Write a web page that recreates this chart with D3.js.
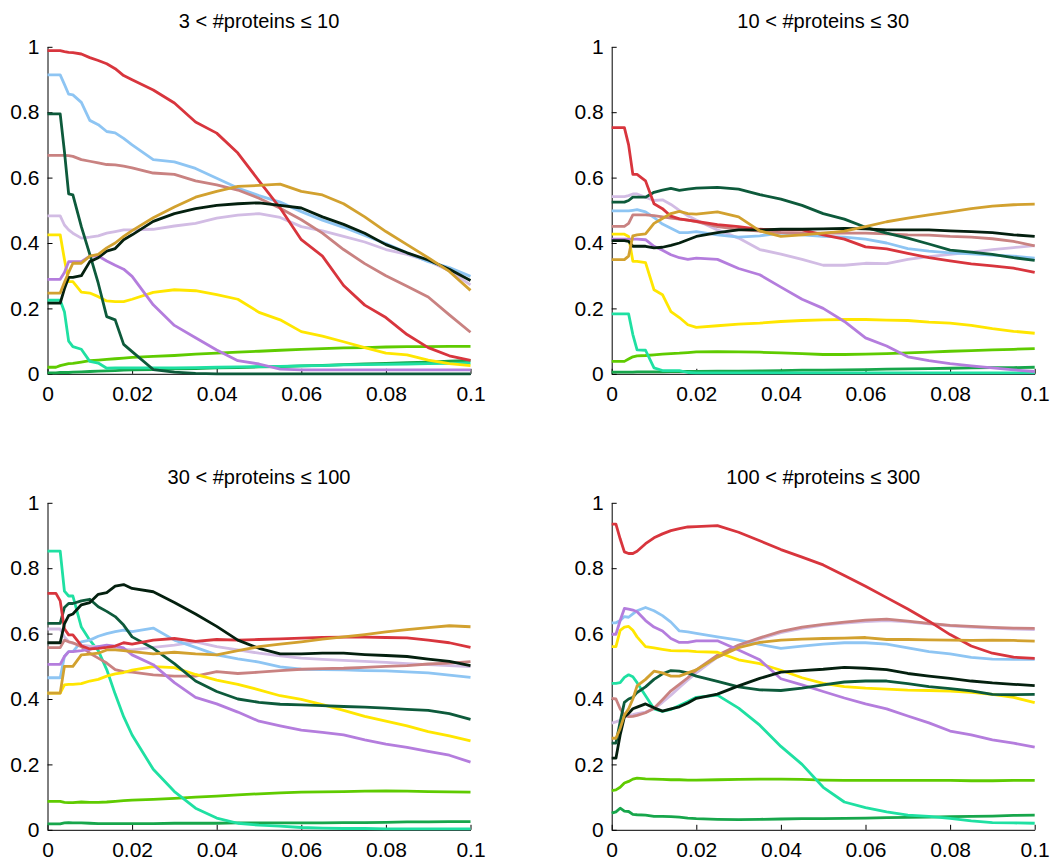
<!DOCTYPE html>
<html>
<head>
<meta charset="utf-8">
<script src="https://cdn.jsdelivr.net/npm/d3@7"></script>
<style>
  html, body { margin: 0; padding: 0; background: #fff; }
  svg { display: block; }
  text { font-family: "Liberation Sans", Arial, Helvetica, sans-serif; fill: #000; }
</style>
</head>
<body>
<svg id="chart" width="1060" height="865"></svg>
<script>
// Shared x sampling (fraction of proteins), finer near the origin where the curves step
const xs = [0, .001, .002, .003, .004, .005, .006, .008, .010, .012, .014, .016, .018, .020,
            .025, .030, .035, .040, .045, .050, .055, .060, .065, .070, .075, .080, .085, .090, .095, .100];

const panelTitles = ["3 < #proteins \u2264 10", "10 < #proteins \u2264 30",
                     "30 < #proteins \u2264 100", "100 < #proteins \u2264 300"];
const xTicks = [0, 0.02, 0.04, 0.06, 0.08, 0.1];
const yTicks = [0, 0.2, 0.4, 0.6, 0.8, 1];

// One array per method; each holds the four panels in order
const lime = [
  [.02,.02,.02,.025,.028,.031,.032,.036,.04,.042,.044,.046,.048,.05,.053,.056,.06,.063,.066,.069,.072,.075,.077,.079,.08,.082,.083,.083,.084,.084],
  [.038,.038,.038,.038,.045,.052,.055,.056,.058,.06,.062,.063,.065,.067,.068,.067,.066,.064,.062,.059,.059,.06,.062,.064,.066,.069,.071,.073,.075,.077],
  [.087,.087,.087,.087,.084,.083,.083,.085,.084,.084,.085,.087,.089,.091,.093,.096,.10,.103,.107,.11,.113,.115,.116,.117,.118,.119,.118,.117,.116,.115],
  [.12,.122,.13,.143,.148,.155,.158,.156,.155,.154,.153,.153,.152,.152,.153,.154,.155,.155,.154,.152,.151,.151,.151,.151,.151,.151,.15,.15,.151,.151]
];
const green = [
  [.003,.003,.003,.004,.004,.004,.005,.006,.007,.008,.009,.01,.011,.012,.013,.015,.016,.018,.019,.021,.022,.024,.026,.028,.03,.032,.034,.036,.039,.041],
  [.005,.005,.005,.005,.005,.005,.006,.006,.006,.006,.007,.007,.007,.007,.008,.008,.009,.01,.011,.011,.012,.013,.014,.015,.016,.017,.018,.019,.019,.02],
  [.018,.018,.018,.018,.021,.022,.021,.021,.02,.019,.019,.019,.019,.019,.019,.02,.02,.02,.021,.021,.021,.021,.021,.022,.022,.023,.024,.024,.025,.025],
  [.051,.055,.066,.057,.056,.047,.046,.045,.041,.041,.04,.039,.036,.034,.032,.031,.032,.033,.034,.034,.035,.036,.037,.038,.039,.04,.041,.042,.044,.045]
];
const teal = [
  [.225,.225,.225,.225,.19,.1,.083,.075,.038,.033,.017,.018,.018,.018,.018,.018,.019,.02,.021,.022,.023,.024,.025,.027,.028,.029,.03,.031,.032,.033],
  [.183,.183,.183,.183,.183,.12,.073,.072,.018,.01,.01,.01,.004,.003,.003,.003,.003,.003,.003,.003,.003,.003,.003,.003,.003,.003,.003,.003,.003,.003],
  [.852,.852,.852,.852,.73,.715,.715,.62,.58,.548,.49,.415,.346,.29,.185,.117,.066,.036,.02,.014,.011,.007,.005,.004,.004,.003,.003,.003,.003,.003],
  [.448,.448,.45,.466,.474,.468,.45,.41,.37,.362,.368,.38,.392,.405,.412,.372,.32,.255,.2,.13,.085,.068,.055,.045,.041,.035,.027,.022,.021,.02]
];
const lavender = [
  [.483,.483,.483,.483,.455,.44,.43,.415,.418,.422,.43,.435,.44,.44,.442,.452,.46,.476,.485,.49,.478,.45,.437,.42,.403,.38,.365,.345,.315,.272],
  [.542,.542,.542,.542,.545,.55,.55,.54,.53,.532,.518,.50,.483,.47,.44,.415,.38,.366,.35,.332,.332,.338,.337,.35,.358,.365,.372,.38,.386,.392],
  [.614,.614,.614,.614,.59,.575,.57,.565,.562,.56,.558,.555,.552,.55,.558,.565,.575,.56,.55,.54,.532,.525,.521,.518,.515,.512,.508,.505,.502,.499],
  [.326,.33,.335,.345,.35,.352,.355,.36,.37,.39,.412,.435,.458,.48,.528,.56,.584,.603,.616,.626,.632,.637,.64,.636,.63,.624,.62,.617,.614,.612]
];
const skyBlue = [
  [.914,.914,.914,.914,.885,.855,.853,.83,.775,.762,.741,.737,.72,.70,.655,.648,.628,.598,.568,.545,.525,.496,.47,.448,.423,.398,.37,.343,.325,.298],
  [.498,.498,.498,.498,.498,.5,.502,.495,.478,.458,.445,.432,.432,.435,.425,.418,.422,.43,.425,.42,.418,.412,.4,.383,.375,.37,.367,.363,.36,.354],
  [.465,.465,.465,.465,.53,.545,.545,.575,.58,.592,.60,.606,.611,.606,.617,.58,.558,.535,.523,.513,.498,.491,.49,.489,.487,.486,.483,.48,.473,.466],
  [.633,.633,.64,.652,.65,.66,.67,.68,.67,.655,.635,.608,.605,.601,.59,.58,.567,.555,.562,.568,.572,.572,.568,.556,.545,.538,.527,.522,.521,.521]
];
const rose = [
  [.668,.668,.668,.668,.668,.667,.665,.655,.65,.645,.64,.639,.635,.63,.614,.61,.59,.578,.562,.537,.506,.471,.43,.38,.337,.30,.268,.235,.18,.127],
  [.451,.451,.451,.451,.46,.486,.486,.486,.484,.48,.476,.473,.47,.465,.45,.442,.436,.432,.43,.43,.43,.43,.428,.425,.424,.42,.418,.413,.405,.391],
  [.557,.557,.557,.557,.58,.575,.572,.56,.54,.525,.51,.49,.484,.482,.474,.47,.47,.484,.478,.482,.487,.491,.493,.494,.497,.5,.502,.507,.51,.514],
  [.402,.40,.37,.35,.346,.347,.35,.358,.372,.398,.425,.445,.465,.489,.534,.565,.587,.607,.62,.628,.635,.641,.644,.638,.631,.625,.622,.619,.617,.616]
];
const yellow = [
  [.425,.425,.425,.425,.35,.282,.282,.25,.247,.236,.223,.221,.221,.228,.249,.257,.254,.242,.228,.188,.165,.129,.115,.098,.08,.063,.058,.042,.031,.025],
  [.427,.427,.427,.427,.42,.344,.344,.34,.257,.242,.19,.172,.15,.142,.147,.152,.155,.16,.163,.165,.166,.166,.164,.163,.158,.155,.148,.138,.13,.124],
  [.418,.418,.418,.418,.443,.445,.445,.447,.455,.46,.47,.477,.481,.488,.499,.496,.475,.458,.445,.428,.41,.399,.383,.365,.347,.332,.318,.30,.287,.272],
  [.56,.56,.61,.62,.622,.61,.59,.56,.556,.552,.548,.547,.547,.545,.543,.52,.508,.488,.465,.448,.438,.433,.43,.427,.426,.424,.42,.414,.405,.389]
];
const violet = [
  [.289,.289,.289,.289,.31,.343,.343,.343,.36,.36,.345,.332,.32,.298,.211,.148,.11,.073,.04,.03,.014,.012,.012,.012,.012,.012,.012,.012,.012,.012],
  [.412,.412,.412,.412,.412,.412,.412,.41,.39,.378,.364,.355,.35,.354,.35,.322,.303,.265,.228,.20,.16,.11,.085,.052,.04,.031,.024,.018,.012,.007],
  [.506,.506,.506,.506,.53,.545,.545,.548,.552,.56,.565,.562,.556,.535,.505,.45,.405,.385,.36,.332,.318,.305,.298,.29,.275,.262,.252,.24,.228,.207],
  [.598,.598,.64,.677,.675,.672,.667,.64,.62,.608,.585,.573,.573,.578,.578,.55,.52,.462,.443,.423,.403,.385,.37,.348,.327,.302,.29,.275,.265,.253]
];
const forest = [
  [.795,.795,.795,.795,.68,.55,.547,.45,.365,.277,.175,.165,.09,.068,.013,.005,.001,0,0,0,0,0,0,0,0,0,0,0,0,0],
  [.525,.525,.525,.525,.53,.54,.54,.54,.555,.562,.567,.561,.565,.568,.57,.565,.548,.534,.515,.49,.473,.448,.43,.415,.397,.378,.372,.365,.355,.347],
  [.631,.631,.631,.631,.68,.692,.692,.70,.705,.682,.668,.652,.626,.59,.555,.508,.455,.423,.40,.39,.384,.382,.38,.377,.375,.372,.368,.365,.355,.338],
  [.265,.265,.33,.39,.40,.405,.42,.437,.46,.477,.487,.485,.48,.47,.454,.437,.428,.426,.433,.443,.452,.455,.455,.447,.438,.432,.425,.414,.413,.414]
];
const crimson = [
  [.988,.988,.988,.988,.985,.983,.982,.978,.967,.958,.948,.933,.912,.899,.868,.828,.77,.736,.675,.59,.507,.41,.36,.27,.21,.172,.12,.08,.055,.041],
  [.753,.753,.753,.753,.70,.61,.61,.59,.52,.505,.482,.474,.47,.466,.456,.45,.442,.44,.44,.425,.412,.388,.382,.368,.355,.345,.336,.33,.323,.31],
  [.723,.723,.723,.70,.615,.596,.596,.563,.553,.555,.558,.562,.572,.568,.58,.585,.576,.582,.58,.582,.584,.586,.588,.589,.589,.588,.587,.58,.572,.558],
  [.935,.935,.89,.85,.845,.845,.852,.875,.893,.905,.915,.921,.926,.927,.93,.91,.884,.857,.834,.81,.778,.745,.71,.675,.638,.597,.562,.54,.528,.524]
];
const ink = [
  [.216,.216,.216,.216,.26,.295,.295,.30,.343,.355,.375,.383,.41,.425,.466,.49,.505,.515,.52,.523,.515,.507,.48,.457,.43,.395,.37,.348,.32,.285],
  [.407,.407,.407,.407,.405,.39,.39,.39,.385,.387,.393,.40,.41,.42,.432,.44,.44,.442,.442,.443,.445,.443,.44,.44,.44,.437,.435,.432,.425,.42],
  [.572,.572,.572,.572,.63,.655,.66,.688,.695,.72,.725,.745,.75,.738,.728,.695,.66,.622,.58,.555,.538,.538,.54,.54,.536,.533,.53,.522,.515,.502],
  [.219,.219,.29,.345,.356,.37,.375,.385,.373,.363,.37,.376,.388,.402,.415,.44,.463,.482,.487,.491,.497,.494,.49,.478,.47,.463,.455,.449,.445,.441]
];
const ochre = [
  [.247,.247,.247,.247,.28,.31,.338,.338,.36,.365,.385,.40,.42,.438,.477,.51,.54,.558,.573,.576,.58,.558,.547,.52,.48,.435,.395,.355,.313,.255],
  [.349,.349,.349,.349,.36,.422,.425,.428,.46,.475,.49,.497,.49,.488,.495,.48,.437,.42,.425,.43,.436,.45,.465,.476,.486,.495,.505,.513,.517,.519],
  [.418,.418,.418,.418,.5,.5,.5,.535,.537,.54,.55,.55,.548,.545,.538,.543,.538,.535,.548,.56,.568,.575,.583,.59,.597,.605,.612,.618,.624,.621],
  [.28,.28,.31,.35,.37,.40,.44,.46,.485,.48,.47,.47,.48,.489,.528,.557,.573,.58,.583,.585,.586,.588,.582,.582,.581,.58,.579,.58,.579,.577]
];

// Drawing order (later series sit on top) and their colours
const seriesList = [lime, green, teal, lavender, skyBlue, rose, yellow, violet, forest, crimson, ink, ochre];
const seriesColors = ["#5fcb00", "#17a64b", "#1fe0a2", "#d2bce4", "#8ec5f3", "#c98281",
                      "#ffe600", "#b47ddd", "#0d5a3b", "#d8353d", "#04200f", "#d2a12f"];

const svg = d3.select("#chart");
const plotW = 423, plotH = 327;
const panelOrigins = [[47.5, 46.8], [611.7, 46.8], [47.5, 502.8], [611.7, 502.8]];

const x = d3.scaleLinear().domain([0, 0.1]).range([0, plotW]);
const y = d3.scaleLinear().domain([0, 1]).range([plotH, 0]);
const line = d3.line().x((d, i) => x(xs[i])).y(d => y(d));

panelOrigins.forEach(([ox, oy], p) => {
  const g = svg.append("g").attr("transform", `translate(${ox},${oy})`);

  g.append("text")
    .attr("x", plotW / 2).attr("y", -19)
    .attr("text-anchor", "middle")
    .style("font-size", "20px")
    .text(panelTitles[p]);

  const yAxis = g.append("g")
    .call(d3.axisLeft(y).tickValues(yTicks).tickFormat(d => String(d))
      .tickSizeInner(-5).tickSizeOuter(0).tickPadding(8));
  const xAxis = g.append("g").attr("transform", `translate(0,${plotH})`)
    .call(d3.axisBottom(x).tickValues(xTicks).tickFormat(d => String(d))
      .tickSizeInner(-5).tickSizeOuter(0).tickPadding(12));
  [yAxis, xAxis].forEach(a => {
    a.selectAll("text").style("font-size", "21px").style("font-family", "'Liberation Sans', Arial, sans-serif");
    a.select(".domain").attr("stroke", "#000");
    a.selectAll(".tick line").attr("stroke", "#000");
  });

  seriesList.forEach((s, k) => {
    g.append("path")
      .datum(s[p])
      .attr("d", line)
      .attr("fill", "none")
      .attr("stroke", seriesColors[k])
      .attr("stroke-width", 2.8)
      .attr("stroke-linejoin", "round");
  });
});
</script>
</body>
</html>
